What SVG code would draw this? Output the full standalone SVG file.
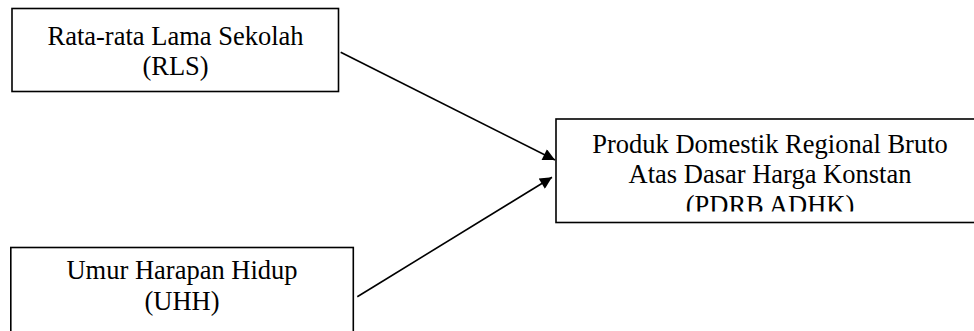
<svg xmlns="http://www.w3.org/2000/svg" width="974" height="331" viewBox="0 0 974 331">
  <style>
    .box { fill: #ffffff; stroke: #000000; stroke-width: 1.6; }
    .label { font-family: "Liberation Serif", "Times New Roman", serif; font-size: 26.5px; fill: #000000; text-anchor: middle; }
    .edge { stroke: #000000; stroke-width: 1.6; fill: none; marker-end: url(#head); }
  </style>
  <defs>
    <marker id="head" viewBox="0 0 10 10" refX="10" refY="5" markerWidth="16" markerHeight="12" markerUnits="userSpaceOnUse" orient="auto">
      <path d="M0,0 L10,5 L0,10 z" fill="#000000"/>
    </marker>
    <clipPath id="pdrbClip">
      <rect x="556" y="119" width="418" height="92.5"/>
    </clipPath>
  </defs>
  <rect width="974" height="331" fill="#ffffff"/>

  <g id="node-rls">
    <rect class="box" x="12" y="8.5" width="326.5" height="83"/>
    <text class="label" x="175.5" y="45">Rata-rata Lama Sekolah</text>
    <text class="label" x="175.5" y="75">(RLS)</text>
  </g>

  <g id="node-uhh">
    <rect class="box" x="10.8" y="247.5" width="342.5" height="100"/>
    <text class="label" x="182" y="279">Umur Harapan Hidup</text>
    <text class="label" x="182" y="310">(UHH)</text>
  </g>

  <g id="node-pdrb">
    <rect class="box" x="556" y="119" width="430" height="103.5"/>
    <g clip-path="url(#pdrbClip)">
      <text class="label" x="770" y="153">Produk Domestik Regional Bruto</text>
      <text class="label" x="770" y="183">Atas Dasar Harga Konstan</text>
      <text class="label" x="770" y="214">(PDRB ADHK)</text>
    </g>
  </g>

  <g id="connectors">
    <line class="edge" x1="340.7" y1="52.3" x2="555" y2="160"/>
    <line class="edge" x1="357.3" y1="296.7" x2="552" y2="177.3"/>
  </g>
</svg>
